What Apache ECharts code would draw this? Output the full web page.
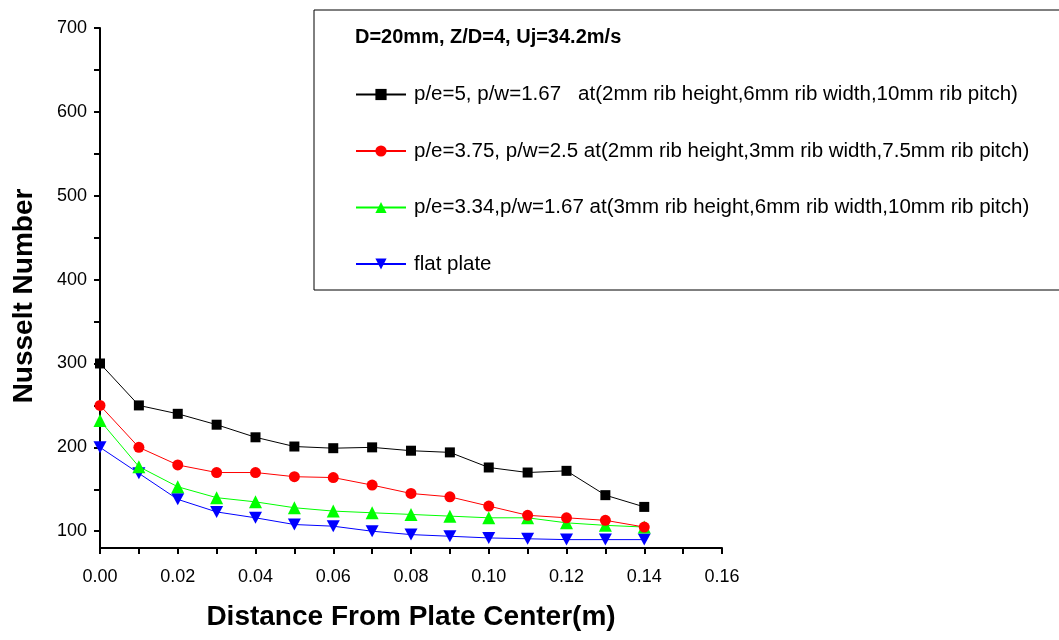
<!DOCTYPE html>
<html>
<head>
<meta charset="utf-8">
<script src="https://cdn.jsdelivr.net/npm/echarts@6/dist/echarts.min.js"></script>
<style>
  html, body { margin: 0; padding: 0; background: #fff; }
  #chart { width: 1059px; height: 640px; }
</style>
</head>
<body>
<div id="chart"></div>
<script>
// distance from plate center (m)
var distance = [0, 0.01, 0.02, 0.03, 0.04, 0.05, 0.06, 0.07, 0.08, 0.09, 0.10, 0.11, 0.12, 0.13, 0.14];
// Nusselt number
var ribA = [300, 250, 240, 227, 212, 201, 199, 200, 196, 194, 176, 170, 172, 143, 129];
var ribB = [250, 200, 179, 170, 170, 165, 164, 155, 145, 141, 130, 119, 116, 113, 105];
var ribC = [232, 177, 153, 140, 135, 128, 124, 122, 120, 118, 116, 116, 110, 107, 105];
var flat = [200, 169, 138, 123, 116, 108, 106, 100, 96, 94, 92, 91, 90, 90, 90];

var seriesNames = [
    'p/e=5, p/w=1.67   at(2mm rib height,6mm rib width,10mm rib pitch)',
    'p/e=3.75, p/w=2.5 at(2mm rib height,3mm rib width,7.5mm rib pitch)',
    'p/e=3.34,p/w=1.67 at(3mm rib height,6mm rib width,10mm rib pitch)',
    'flat plate'
];
var legendTitle = 'D=20mm, Z/D=4, Uj=34.2m/s';
var yMajor = [100, 200, 300, 400, 500, 600, 700];
var yMinor = [150, 250, 350, 450, 550, 650];

function pairs(ys) {
    var out = [];
    for (var i = 0; i < ys.length; i++) out.push([distance[i], ys[i]]);
    return out;
}

var font = 'Arial, "Liberation Sans", sans-serif';
var myChart = echarts.init(document.getElementById('chart'));

var lineStyles = [
    {color: '#000000', symbol: 'rect', size: 10, data: ribA},
    {color: '#ff0000', symbol: 'circle', size: 11, data: ribB},
    {color: '#00ff00', symbol: 'triangle', size: 13, data: ribC},
    {color: '#0000ff', symbol: 'path://M0,0 L10,0 L5,9 Z', size: [13, 12], data: flat}
];

var series = [];
for (var k = 0; k < lineStyles.length; k++) {
    var s = lineStyles[k];
    series.push({
        name: seriesNames[k],
        type: 'line',
        data: pairs(s.data),
        symbol: s.symbol,
        symbolSize: s.size,
        showAllSymbol: true,
        z: 10 - k,
        itemStyle: {color: s.color},
        lineStyle: {color: s.color, width: 1},
        animation: false
    });
}

myChart.setOption({
    animation: false,
    grid: {left: 100, right: 337, top: 28, bottom: 92, outerBoundsMode: 'none'},
    legend: {
        orient: 'vertical',
        left: 355,
        top: 84,
        padding: 0,
        itemWidth: 50,
        itemHeight: 14,
        itemGap: 35.5,
        textStyle: {color: '#000', fontSize: 20.5, fontFamily: font, padding: [0, 0, 0, 3]},
        data: seriesNames
    },
    graphic: [
        {type: 'rect', shape: {x: 314, y: 10, width: 760, height: 280},
         style: {fill: 'none', stroke: '#000', lineWidth: 1}, silent: true},
        {type: 'text', left: 355, top: 27,
         style: {text: legendTitle, fill: '#000', font: 'bold 20px ' + font}}
    ],
    xAxis: {
        type: 'value',
        min: 0, max: 0.16, interval: 0.02,
        name: 'Distance From Plate Center(m)',
        nameLocation: 'middle',
        nameGap: 55,
        nameTextStyle: {color: '#000', fontSize: 28, fontWeight: 'bold', fontFamily: font},
        axisLine: {lineStyle: {color: '#000', width: 2}},
        axisTick: {inside: false, length: 6, lineStyle: {color: '#000', width: 2}},
        minorTick: {show: true, splitNumber: 2, length: 6, lineStyle: {color: '#000', width: 2}},
        splitLine: {show: false},
        axisLabel: {color: '#000', fontSize: 18, fontFamily: font, margin: 20,
            formatter: function (v) { return v.toFixed(2); }}
    },
    yAxis: [{
        type: 'value',
        min: 80, max: 700,
        name: 'Nusselt Number',
        nameLocation: 'middle',
        nameGap: 62,
        nameRotate: 90,
        nameTextStyle: {color: '#000', fontSize: 28, fontWeight: 'bold', fontFamily: font,
            padding: [0, 16, 0, 0]},
        axisLine: {show: true, lineStyle: {color: '#000', width: 2}},
        axisTick: {show: true, length: 6, customValues: yMajor, lineStyle: {color: '#000', width: 2}},
        splitLine: {show: false},
        axisLabel: {color: '#000', fontSize: 18, fontFamily: font, margin: 13, customValues: yMajor}
    }, {
        type: 'value',
        position: 'left',
        min: 80, max: 700,
        axisLine: {show: false},
        axisTick: {show: true, length: 6, customValues: yMinor, lineStyle: {color: '#000', width: 2}},
        axisLabel: {show: false},
        splitLine: {show: false}
    }],
    series: series
});
</script>
</body>
</html>
